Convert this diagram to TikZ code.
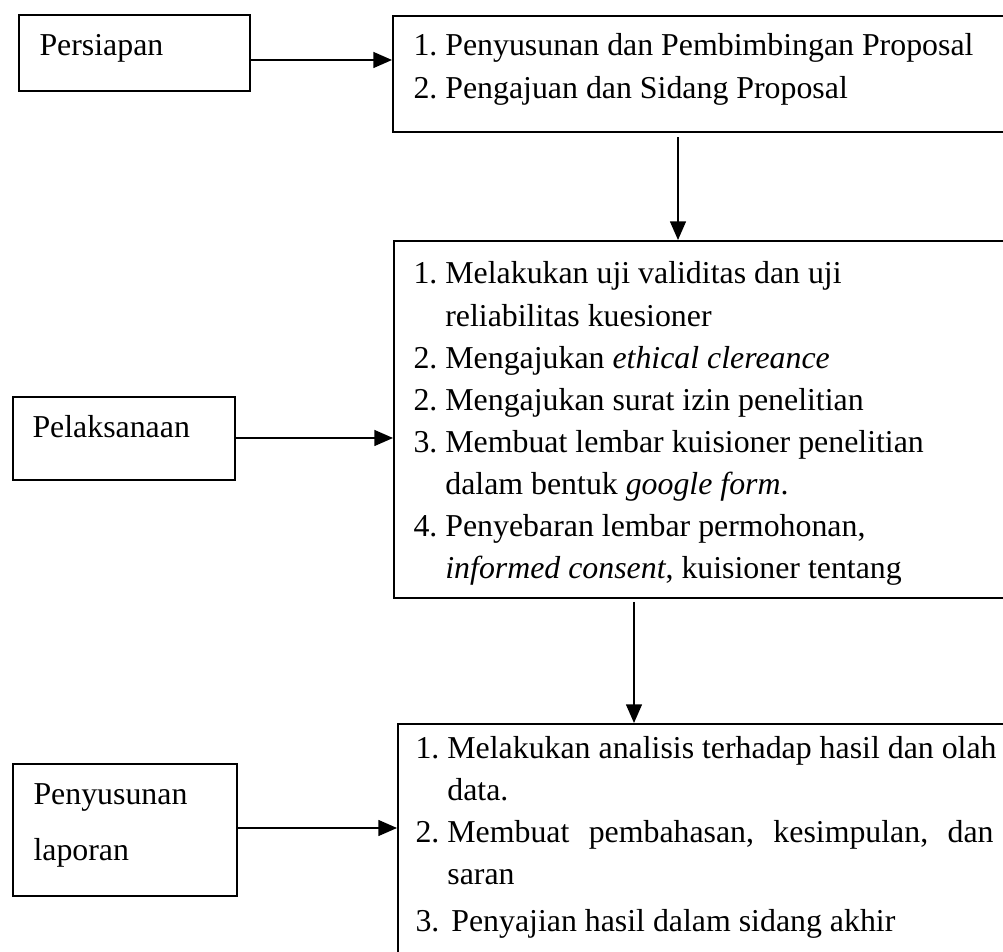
\documentclass[tikz,border=0pt]{standalone}
\usepackage{fontspec}
\setmainfont{Liberation Serif}
\usetikzlibrary{arrows.meta}

\newcommand\pxu{0.3768pt}
\frenchspacing

\tikzset{
  stagebox/.style={draw, line width=0.8pt, anchor=north west, inner sep=0pt},
  txt/.style={anchor=base west, inner sep=0pt, font=\fontsize{12pt}{14pt}\selectfont},
  flow/.style={line width=0.5pt, -{Triangle[length=7pt,width=6pt]}},
}

\begin{document}
\begin{tikzpicture}[x=\pxu, y=-\pxu]
  \useasboundingbox (0,0) rectangle (1003,952);

  % tahap (kiri)
  \node[stagebox, minimum width=231*\pxu, minimum height=76*\pxu] (persiapan) at (18,14) {};
  \node[stagebox, minimum width=222*\pxu, minimum height=83*\pxu] (pelaksanaan) at (12,396) {};
  \node[stagebox, minimum width=224*\pxu, minimum height=132*\pxu] (penyusunan) at (12,763) {};
  \node[txt] (t-persiapan) at (39,56) {Persiapan};
  \node[txt] (t-pelaksanaan) at (32,438) {Pelaksanaan};
  \node[txt] (t-penyusunan) at (33,805) {Penyusunan};
  \node[txt] (t-laporan) at (33,861) {laporan};

  % kegiatan (kanan)
  \node[stagebox, minimum width=640*\pxu, minimum height=116*\pxu] (prep) at (392,15) {};
  \node[stagebox, minimum width=640*\pxu, minimum height=357*\pxu] (exec) at (393,240) {};
  \node[stagebox, minimum width=640*\pxu, minimum height=260*\pxu] (report) at (397,723) {};

  \node[txt] (prep-1) at (413,56) {1. Penyusunan dan Pembimbingan Proposal};
  \node[txt] (prep-2) at (413,99) {2. Pengajuan dan Sidang Proposal};

  \foreach \ln [count=\i from 0] in {
      {1. Melakukan uji validitas dan uji},
      {\phantom{1.} reliabilitas kuesioner},
      {2. Mengajukan \textit{ethical clereance}},
      {2. Mengajukan surat izin penelitian},
      {3. Membuat lembar kuisioner penelitian},
      {\phantom{3.} dalam bentuk \textit{google form}.},
      {4. Penyebaran lembar permohonan,},
      {\phantom{4.} \textit{informed consent}, kuisioner tentang}}
    \node[txt] (exec-\i) at (413,284+42.1*\i) {\ln};

  \node[txt] (report-1) at (415,759) {1. Melakukan analisis terhadap hasil dan olah};
  \node[txt] (report-2) at (415,801) {\phantom{1.} data.};
  \node[txt] (report-3) at (415,843) {\makebox[217.8pt][s]{2.\hspace{3pt}Membuat pembahasan, kesimpulan, dan}};
  \node[txt] (report-4) at (415,885) {\phantom{2.} saran};
  \node[txt] (report-5) at (415,932) {3.\hspace{4.5pt}Penyajian hasil dalam sidang akhir};

  % panah
  \draw[flow] (persiapan.east |- 0,60) -- (prep.west |- 0,60);
  \draw[flow] ([yshift=-1.5pt]prep.south -| 678,0) -- (exec.north -| 678,0);
  \draw[flow] (pelaksanaan.east |- 0,438) -- (exec.west |- 0,438);
  \draw[flow] ([yshift=-1pt]exec.south -| 634,0) -- (report.north -| 634,0);
  \draw[flow] (penyusunan.east |- 0,828) -- (report.west |- 0,828);
\end{tikzpicture}
\end{document}
